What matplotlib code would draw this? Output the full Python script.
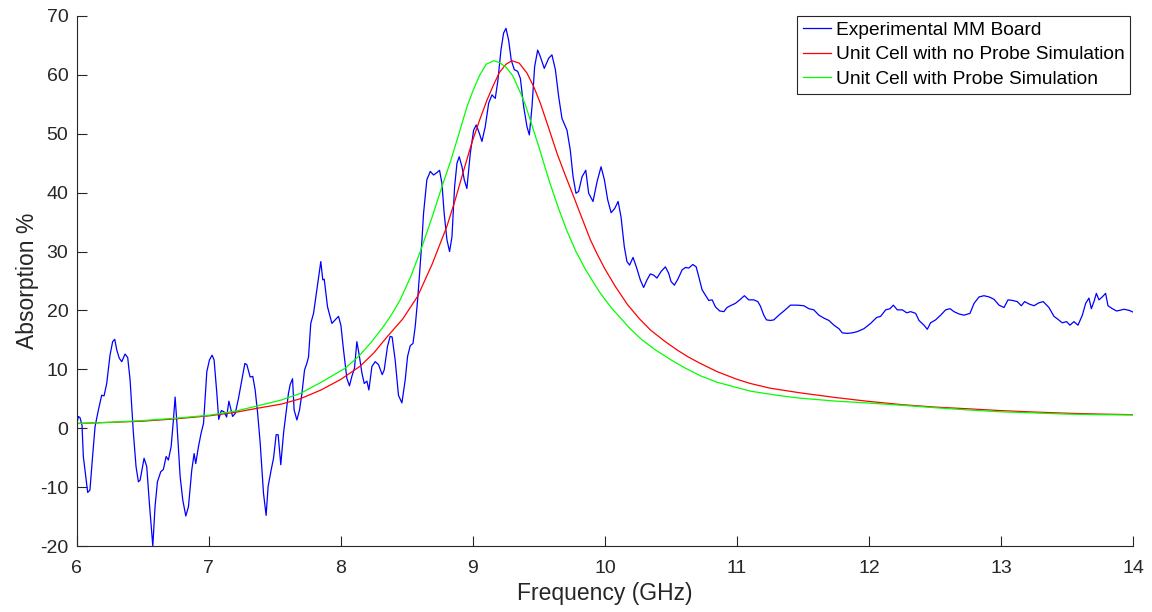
import matplotlib
matplotlib.use('Agg')
import matplotlib.pyplot as plt
import numpy as np
from matplotlib import rcParams

rcParams['font.family'] = 'sans-serif'
rcParams['font.sans-serif'] = ['Liberation Sans', 'DejaVu Sans']
rcParams['font.size'] = 14
rcParams['axes.unicode_minus'] = False

### medicion del tablero (GHz, %) ###
freq_exp = [6.000, 6.012, 6.025, 6.040, 6.050, 6.083, 6.100, 6.120, 6.139, 6.164,
            6.189, 6.207, 6.227, 6.252, 6.272, 6.288, 6.303, 6.322, 6.341, 6.366,
            6.386, 6.404, 6.429, 6.449, 6.467, 6.480, 6.510, 6.530, 6.550, 6.576,
            6.593, 6.611, 6.636, 6.656, 6.677, 6.694, 6.715, 6.732, 6.745, 6.757,
            6.783, 6.803, 6.826, 6.846, 6.871, 6.889, 6.901, 6.922, 6.942, 6.960,
            6.985, 7.005, 7.025, 7.040, 7.061, 7.075, 7.095, 7.115, 7.135, 7.152,
            7.162, 7.180, 7.200, 7.225, 7.250, 7.273, 7.288, 7.313, 7.333, 7.351,
            7.370, 7.389, 7.414, 7.434, 7.449, 7.472, 7.490, 7.510, 7.525, 7.545,
            7.566, 7.586, 7.603, 7.616, 7.634, 7.646, 7.667, 7.687, 7.705, 7.725,
            7.742, 7.755, 7.772, 7.793, 7.818, 7.848, 7.863, 7.874, 7.899, 7.932,
            7.957, 7.982, 8.000, 8.020, 8.045, 8.065, 8.083, 8.103, 8.121, 8.139,
            8.159, 8.177, 8.197, 8.212, 8.235, 8.260, 8.285, 8.313, 8.328, 8.353,
            8.373, 8.388, 8.411, 8.436, 8.462, 8.487, 8.505, 8.525, 8.546, 8.563,
            8.581, 8.596, 8.614, 8.626, 8.651, 8.677, 8.702, 8.727, 8.747, 8.765,
            8.782, 8.803, 8.823, 8.841, 8.861, 8.879, 8.896, 8.917, 8.934, 8.954,
            8.980, 9.005, 9.025, 9.048, 9.068, 9.093, 9.119, 9.144, 9.169, 9.189,
            9.212, 9.232, 9.250, 9.270, 9.290, 9.313, 9.338, 9.359, 9.384, 9.409,
            9.427, 9.447, 9.467, 9.490, 9.510, 9.540, 9.573, 9.598, 9.624, 9.649,
            9.674, 9.712, 9.737, 9.758, 9.780, 9.800, 9.826, 9.854, 9.876, 9.909,
            9.940, 9.970, 9.995, 10.020, 10.046, 10.073, 10.099, 10.121, 10.146, 10.166,
            10.186, 10.212, 10.237, 10.267, 10.292, 10.318, 10.343, 10.368, 10.393, 10.424,
            10.457, 10.482, 10.500, 10.525, 10.551, 10.584, 10.609, 10.634, 10.665, 10.690,
            10.710, 10.735, 10.768, 10.785, 10.811, 10.836, 10.869, 10.900, 10.924, 10.949,
            10.987, 11.020, 11.055, 11.088, 11.126, 11.157, 11.177, 11.202, 11.222, 11.253,
            11.278, 11.316, 11.354, 11.404, 11.455, 11.505, 11.543, 11.581, 11.619, 11.657,
            11.695, 11.733, 11.771, 11.796, 11.834, 11.872, 11.910, 11.960, 12.011, 12.056,
            12.087, 12.125, 12.158, 12.183, 12.213, 12.251, 12.284, 12.314, 12.352, 12.377,
            12.415, 12.440, 12.465, 12.503, 12.541, 12.579, 12.612, 12.642, 12.680, 12.718,
            12.763, 12.794, 12.832, 12.869, 12.907, 12.945, 12.983, 13.021, 13.051, 13.084,
            13.121, 13.152, 13.177, 13.210, 13.248, 13.285, 13.318, 13.361, 13.399, 13.429,
            13.462, 13.495, 13.520, 13.550, 13.581, 13.614, 13.639, 13.664, 13.682, 13.702,
            13.720, 13.740, 13.765, 13.790, 13.808, 13.841, 13.874, 13.930, 13.970, 14.000]
abs_exp = [0.5, 2.0, 1.8, 0.5, -4.8, -10.9, -10.5, -4.8, 0.3, 3.1,
           5.6, 5.5, 7.6, 12.4, 14.7, 15.1, 13.3, 11.9, 11.3, 12.6,
           12.0, 8.2, -0.8, -6.5, -9.1, -8.8, -5.1, -6.5, -12.7, -20.0,
           -13.3, -9.1, -7.4, -7.0, -4.8, -5.4, -3.1, 1.4, 5.3, 1.4,
           -8.2, -12.2, -14.9, -13.3, -7.1, -4.3, -6.0, -3.1, -0.8, 0.8,
           9.6, 11.6, 12.4, 11.6, 5.9, 1.5, 3.0, 2.8, 1.9, 4.6,
           3.7, 2.0, 2.5, 5.1, 8.2, 11.0, 10.8, 8.7, 8.8, 6.5,
           2.5, -2.5, -11.0, -14.8, -9.9, -7.1, -5.1, -1.1, -1.1, -6.2,
           -0.8, 2.8, 5.9, 7.4, 8.4, 3.1, 1.4, 3.1, 5.9, 9.9,
           11.0, 12.1, 17.8, 19.5, 23.5, 28.3, 25.2, 25.3, 20.6, 17.8,
           18.4, 19.0, 17.5, 13.3, 8.5, 7.2, 8.8, 10.2, 14.7, 12.4,
           9.4, 7.6, 8.0, 6.5, 10.5, 11.3, 10.8, 9.1, 9.9, 13.9,
           15.6, 15.5, 11.6, 5.6, 4.3, 8.2, 12.2, 14.0, 14.4, 17.3,
           21.8, 26.3, 32.0, 36.5, 42.2, 43.6, 43.0, 43.4, 43.8, 41.6,
           36.5, 32.0, 30.0, 32.5, 41.0, 45.0, 46.1, 44.4, 42.2, 40.7,
           46.7, 50.6, 51.5, 50.1, 48.7, 51.2, 55.2, 56.6, 56.0, 59.1,
           64.2, 67.1, 67.9, 65.9, 62.5, 60.9, 60.6, 59.4, 54.6, 51.2,
           49.8, 54.6, 61.4, 64.2, 63.1, 61.1, 62.8, 63.4, 60.9, 56.3,
           52.6, 50.6, 47.2, 42.7, 39.9, 40.2, 42.7, 43.8, 39.9, 38.5,
           41.9, 44.4, 42.2, 38.8, 36.6, 37.3, 38.5, 35.9, 30.8, 28.3,
           27.7, 29.0, 27.4, 25.2, 23.9, 25.2, 26.2, 26.0, 25.5, 26.6,
           27.4, 26.3, 24.9, 24.3, 25.3, 26.9, 27.3, 27.2, 27.8, 27.4,
           25.7, 23.5, 22.3, 21.7, 21.8, 20.6, 19.9, 19.8, 20.5, 20.8,
           21.2, 21.8, 22.5, 21.8, 21.8, 21.5, 20.7, 19.2, 18.4, 18.3,
           18.4, 19.2, 19.9, 20.9, 20.9, 20.8, 20.3, 20.1, 19.2, 18.7,
           18.3, 17.5, 16.9, 16.2, 16.1, 16.2, 16.4, 16.9, 17.8, 18.8,
           19.0, 20.1, 20.3, 20.9, 20.1, 20.1, 19.6, 19.8, 19.5, 18.3,
           17.5, 16.8, 17.9, 18.4, 19.2, 20.1, 20.3, 19.8, 19.4, 19.2,
           19.5, 21.2, 22.3, 22.5, 22.3, 21.9, 20.9, 20.5, 21.8, 21.7,
           21.5, 20.8, 21.5, 21.1, 20.8, 21.3, 21.5, 20.5, 19.0, 18.5,
           17.9, 18.1, 17.5, 18.1, 17.5, 19.2, 21.2, 22.1, 20.3, 21.5,
           22.9, 21.8, 22.3, 22.9, 20.8, 20.3, 19.9, 20.2, 20.0, 19.7]

### simulacion celda unitaria sin sonda ###
freq_sin = [6.0, 6.25, 6.5, 6.75, 7.0, 7.2, 7.37, 7.55, 7.692, 7.85,
            8.0, 8.144, 8.25, 8.353, 8.47, 8.581, 8.69, 8.803, 8.866, 8.93,
            8.992, 9.05, 9.106, 9.15, 9.2, 9.25, 9.295, 9.35, 9.409, 9.46,
            9.51, 9.57, 9.636, 9.7, 9.763, 9.83, 9.889, 9.94, 9.995, 10.08,
            10.17, 10.26, 10.343, 10.45, 10.545, 10.63, 10.722, 10.85, 11.0, 11.1,
            11.25, 11.48, 11.75, 11.98, 12.25, 12.49, 12.75, 12.99, 13.25, 13.5,
            13.75, 14.0]
abs_sin = [0.8, 1.0, 1.2, 1.6, 2.1, 2.7, 3.4, 4.1, 5.0, 6.5,
           8.3, 10.5, 12.8, 15.6, 18.6, 22.4, 27.8, 34.3, 38.8, 43.8,
           48.5, 52.3, 55.7, 58.0, 60.4, 61.8, 62.4, 62.0, 60.3, 58.0,
           55.2, 51.2, 46.7, 42.9, 39.3, 35.4, 32.0, 29.6, 27.2, 24.0,
           21.0, 18.6, 16.7, 14.8, 13.3, 12.1, 11.0, 9.6, 8.3, 7.6,
           6.8, 6.0, 5.2, 4.6, 4.0, 3.6, 3.3, 3.0, 2.75, 2.55,
           2.4, 2.3]

### simulacion celda unitaria con sonda ###
freq_con = [6.0, 6.25, 6.5, 6.75, 7.0, 7.2, 7.37, 7.55, 7.692, 7.85,
            8.033, 8.134, 8.23, 8.323, 8.39, 8.449, 8.53, 8.606, 8.69, 8.765,
            8.83, 8.879, 8.955, 9.0, 9.05, 9.1, 9.157, 9.2, 9.25, 9.3,
            9.359, 9.4, 9.46, 9.5, 9.55, 9.586, 9.65, 9.712, 9.78, 9.851,
            9.9, 9.965, 10.05, 10.19, 10.28, 10.381, 10.5, 10.6, 10.722, 10.85,
            11.0, 11.1, 11.3, 11.48, 11.75, 11.98, 12.25, 12.49, 12.75, 12.99,
            13.25, 13.5, 13.75, 14.0]
abs_con = [0.8, 1.0, 1.3, 1.7, 2.2, 2.9, 3.8, 4.8, 5.9, 7.8,
           10.2, 12.2, 14.6, 17.3, 19.5, 21.8, 25.8, 30.3, 35.8, 41.0,
           45.3, 48.9, 54.6, 57.3, 59.9, 61.8, 62.4, 62.1, 61.3, 59.9,
           57.0, 54.7, 50.5, 47.7, 44.0, 41.4, 37.2, 33.5, 30.0, 27.0,
           25.2, 22.9, 20.4, 16.9, 15.0, 13.3, 11.6, 10.3, 8.9, 7.8,
           6.9, 6.3, 5.6, 5.1, 4.6, 4.3, 3.9, 3.5, 3.1, 2.8,
           2.6, 2.4, 2.3, 2.25]

fig = plt.figure(figsize=(11.52, 6.12), dpi=100)
ax = fig.add_axes([0.0666, 0.1078, 0.9172, 0.8661])

ax.plot(freq_exp, abs_exp, color='b', lw=0.9, label='Experimental MM Board')
ax.plot(freq_sin, abs_sin, color='r', lw=0.9, label='Unit Cell with no Probe Simulation')
ax.plot(freq_con, abs_con, color='#00ff00', lw=0.9, label='Unit Cell with Probe Simulation')

ax.set_xlim(6, 14)
ax.set_ylim(-20, 70)
ax.set_xticks(np.arange(6, 15, 1))
ax.set_yticks(np.arange(-20, 80, 10))
ax.set_xlabel('Frequency (GHz)', fontsize=16.5, color='#262626', labelpad=4)
ax.set_ylabel('Absorption %', fontsize=16.5, color='#262626', labelpad=1)

for s in ['top', 'right']:
    ax.spines[s].set_visible(False)
for s in ['left', 'bottom']:
    ax.spines[s].set_color('#262626')
    ax.spines[s].set_linewidth(0.8)
ax.tick_params(axis='both', direction='in', length=7, width=0.8,
               colors='#262626', labelsize=14)
ax.tick_params(axis='x', pad=10)
ax.tick_params(axis='y', pad=6)

leg = ax.legend(loc='upper right', bbox_to_anchor=(0.997, 1.0), borderaxespad=0,
                fontsize=13.8, fancybox=False, framealpha=1, edgecolor='#262626',
                handlelength=1.46, handletextpad=0.26, labelspacing=0.36,
                borderpad=0.3)
leg.get_frame().set_linewidth(0.8)

plt.savefig('out.png', dpi=100)
